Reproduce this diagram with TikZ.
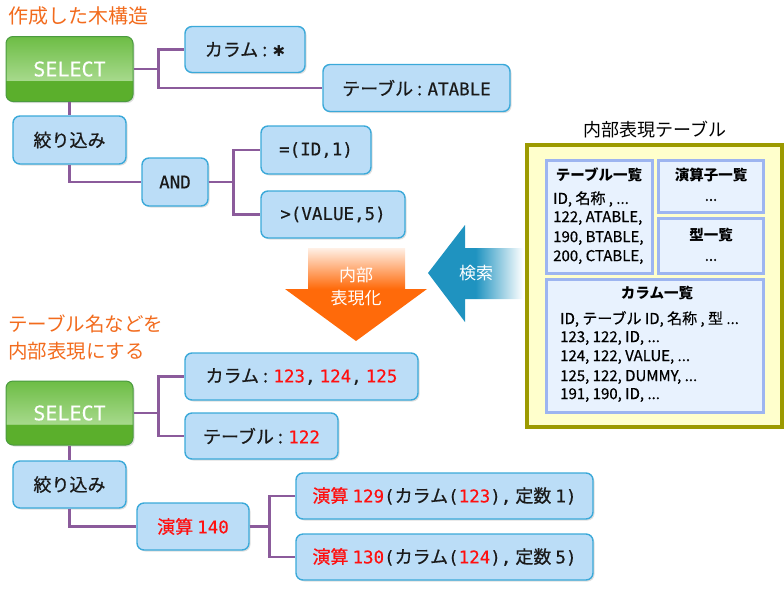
\documentclass[tikz,border=0pt]{standalone}
\usepackage{fontspec}
\setmainfont{Noto Sans CJK JP}
\newfontfamily\boxfont[FakeBold=0.7]{Noto Sans CJK JP}
\newfontfamily\lnfont[FakeBold=0.5]{Noto Sans CJK JP}
\newfontfamily\monof[FakeBold=0.3]{DejaVu Sans Mono}
\newfontfamily\symf{DejaVu Sans}
\newcommand\latx[1]{{\monof\fontsize{17.5}{20}\selectfont #1}}
\usetikzlibrary{shadows}
\definecolor{gdark}{HTML}{5BAF2C}
\definecolor{glight}{HTML}{A6D98B}
\definecolor{gtop}{HTML}{6DBD45}
\definecolor{gborder}{HTML}{4B9B3F}
\definecolor{boxfill}{HTML}{BBDDF7}
\definecolor{boxline}{HTML}{3BA9D9}
\definecolor{conncol}{HTML}{8B5B9B}
\definecolor{tred}{HTML}{FF1010}
\definecolor{titleor}{HTML}{F26B1D}
\definecolor{orA}{HTML}{FF6A0A}
\definecolor{orW}{HTML}{FFF0E6}
\definecolor{blA}{HTML}{1F93C0}
\definecolor{olivebd}{HTML}{9C9A00}
\definecolor{paneyel}{HTML}{FFFFCC}
\definecolor{tabbd}{HTML}{9DB5F0}
\definecolor{tabfill}{HTML}{E8F2FE}
\definecolor{txt}{HTML}{1A1A1A}
\pgfdeclareverticalshading{selshade}{100bp}{color(0bp)=(gdark); color(25bp)=(gdark); color(41bp)=(gdark); color(41.5bp)=(glight); color(75bp)=(gtop); color(100bp)=(gtop)}
\pgfdeclareverticalshading{orshade}{100bp}{color(0bp)=(orA); color(25bp)=(orA); color(53bp)=(orA); color(75bp)=(orW); color(100bp)=(orW)}
\pgfdeclarehorizontalshading{blshade}{100bp}{color(0bp)=(blA); color(25bp)=(blA); color(50bp)=(blA); color(75bp)=(white); color(100bp)=(white)}
\begin{document}
\begin{tikzpicture}[x=1pt,y=-1pt,
  bx/.style={rectangle, rounded corners=7pt, draw=boxline, fill=boxfill, line width=1.4pt,
    drop shadow={opacity=0.25, shadow xshift=1.5pt, shadow yshift=-1.5pt},
    inner sep=0pt, text=txt, font=\boxfont\fontsize{18}{20}\selectfont},
  selbox/.style={rectangle, rounded corners=7pt, draw=gborder, shading=selshade, line width=1pt,
    drop shadow={opacity=0.25, shadow xshift=1.5pt, shadow yshift=-1.5pt},
    inner sep=0pt, text=white, font=\monof\fontsize{20}{22}\selectfont,
    minimum width=127pt, minimum height=65pt},
  conn/.style={draw=conncol, line width=2.5pt},
  ttl/.style={text=titleor, font=\fontsize{20}{26}\selectfont, inner sep=0pt},
  tabbox/.style={draw=tabbd, fill=tabfill, line width=3pt},
  tabhd/.style={font=\bfseries\fontsize{14.5}{16}\selectfont, inner sep=0pt},
  tabln/.style={font=\lnfont\fontsize{15}{16}\selectfont, inner sep=0pt, anchor=west},
  arrtxt/.style={text=white, font=\fontsize{17}{23}\selectfont, align=center, inner sep=0pt}
]
\useasboundingbox (0,0) rectangle (784,590);

% ---------- titles ----------
\node[ttl, anchor=west] (t1) at (8,16) {作成した木構造};
\node[ttl, anchor=north west, align=left, font=\fontsize{19.5}{27}\selectfont] (t2) at (8,315) {テーブル名などを\\内部表現にする};

% ---------- upper tree ----------
\node[selbox] (sel1) at (69.5,69) {SELECT};
\node[bx, minimum width=120pt, minimum height=46pt] (col1) at (245,49.5) {カラム : {\symf\fontsize{15}{16}\selectfont ✱}};
\node[bx, minimum width=187pt, minimum height=47pt] (tab1) at (416.5,88) {テーブル : \latx{ATABLE}};
\node[bx, minimum width=113pt, minimum height=48pt] (fil1) at (69.5,140) {絞り込み};
\node[bx, minimum width=66pt, minimum height=48pt] (and1) at (175,182) {\latx{AND}};
\node[bx, minimum width=110pt, minimum height=48pt] (eq1) at (316,150) {\latx{=(ID,1)}};
\node[bx, minimum width=144pt, minimum height=47pt] (gt1) at (333,214.5) {\latx{>(VALUE,5)}};

\draw[conn] (sel1.east) -- ++(25,0) |- (col1.west);
\draw[conn] (sel1.east) -- ++(25,0) |- (tab1.west);
\draw[conn] (sel1.south) -- (fil1.north);
\draw[conn] (fil1.south) |- (and1.west);
\draw[conn] (and1.east) -- ++(25,0) |- (eq1.west);
\draw[conn] (and1.east) -- ++(25,0) |- (gt1.west);

% ---------- lower tree ----------
\node[selbox, minimum height=64pt] (sel2) at (69.5,413) {SELECT};
\node[bx, minimum width=233pt, minimum height=47pt] (col2) at (301.5,376.5) {カラム : \textcolor{tred}{\latx{123}}\latx{,} \textcolor{tred}{\latx{124}}\latx{,} \textcolor{tred}{\latx{125}}};
\node[bx, minimum width=153pt, minimum height=46pt] (tab2) at (261.5,436) {テーブル : \textcolor{tred}{\latx{122}}};
\node[bx, minimum width=113pt, minimum height=47pt] (fil2) at (69.5,484.5) {絞り込み};
\node[bx, minimum width=112pt, minimum height=47pt, text=tred] (op140) at (193,526.5) {演算 \latx{140}};
\node[bx, minimum width=297pt, minimum height=46pt] (op129) at (444.5,496) {\textcolor{tred}{演算 \latx{129}}\latx{(}カラム\latx{(}\textcolor{tred}{\latx{123}}\latx{),} 定数 \latx{1)}};
\node[bx, minimum width=297pt, minimum height=46pt] (op130) at (444.5,557) {\textcolor{tred}{演算 \latx{130}}\latx{(}カラム\latx{(}\textcolor{tred}{\latx{124}}\latx{),} 定数 \latx{5)}};

\draw[conn] (sel2.east) -- ++(25,0) |- (col2.west);
\draw[conn] (sel2.east) -- ++(25,0) |- (tab2.west);
\draw[conn] (sel2.south) -- (fil2.north);
\draw[conn] (fil2.south) |- (op140.west);
\draw[conn] (op140.east) -- ++(20,0) |- (op129.west);
\draw[conn] (op140.east) -- ++(20,0) |- (op130.west);

% ---------- arrows ----------
\path[shading=orshade] (308,248) -- (405,248) -- (405,289) -- (427,289) -- (356,341) -- (285,289) -- (308,289) -- cycle;
\node[arrtxt] (a1) at (356,286.5) {内部\\表現化};
\path[shading=blshade] (428,273) -- (465,225) -- (465,248) -- (523,248) -- (523,299) -- (465,299) -- (465,322) -- cycle;
\node[arrtxt] (a2) at (476,273) {検索};

% ---------- internal table panel ----------
\node[inner sep=0pt, font=\fontsize{18}{20}\selectfont] (pt) at (655,130) {内部表現テーブル};
\draw[draw=olivebd, fill=paneyel, line width=4pt] (527,145) rectangle (782,427);
\draw[tabbox] (546,160) rectangle (652,273);
\draw[tabbox] (658,160) rectangle (763,212);
\draw[tabbox] (658,218) rectangle (763,273);
\draw[tabbox] (546,279) rectangle (763,412);

\node[tabhd] (h1) at (599,175) {テーブル一覧};
\node[tabln] (l11) at (553,199) {ID, 名称 , ...};
\node[tabln] (l12) at (553,218) {122, ATABLE,};
\node[tabln] (l13) at (553,238) {190, BTABLE,};
\node[tabln] (l14) at (553,257) {200, CTABLE,};

\node[tabhd] (h2) at (711,175) {演算子一覧};
\node[tabln, anchor=center] (l21) at (711,200) {...};
\node[tabhd] (h3) at (711,235) {型一覧};
\node[tabln, anchor=center] (l31) at (711,260) {...};

\node[tabhd] (h4) at (657,293) {カラム一覧};
\node[tabln] (l41) at (560,319) {ID, テーブル ID, 名称 , 型 ...};
\node[tabln] (l42) at (560,338) {123, 122, ID, ...};
\node[tabln] (l43) at (560,357) {124, 122, VALUE, ...};
\node[tabln] (l44) at (560,377) {125, 122, DUMMY, ...};
\node[tabln] (l45) at (560,395) {191, 190, ID, ...};
\end{tikzpicture}
\end{document}
